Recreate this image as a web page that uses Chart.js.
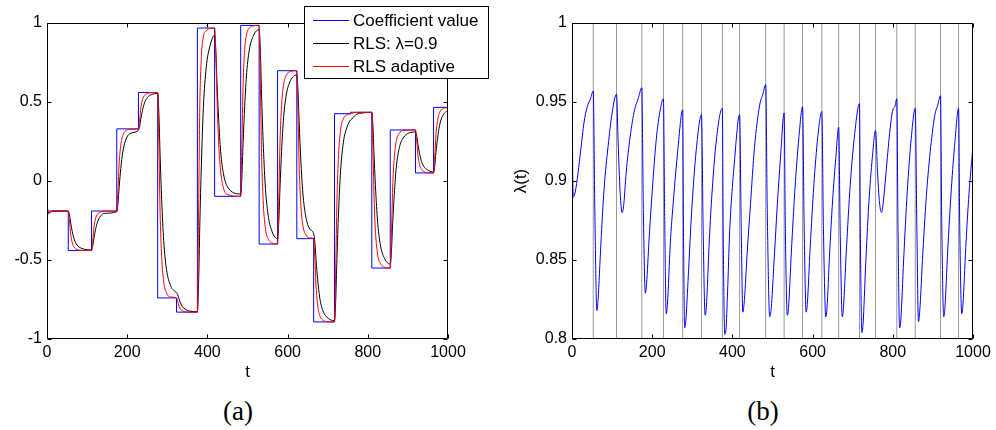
<!DOCTYPE html>
<html>
<head>
<meta charset="utf-8">
<script src="https://cdn.jsdelivr.net/npm/chart.js@4.4.0/dist/chart.umd.min.js"></script>
<style>
    body { margin: 0; background: #fff; width: 996px; height: 430px; position: relative; overflow: hidden; }
    .panel { position: absolute; top: 0; }
    #wrapA { left: 0; }
    #wrapB { left: 498px; }
    .cap {
        position: absolute; top: 398px; line-height: 27px;
        font-family: "Liberation Serif", "Times New Roman", serif; font-size: 27px;
        transform: translateX(-50%);
    }
</style>
</head>
<body>
<div class="panel" id="wrapA"><canvas id="coef" width="498" height="385"></canvas></div>
<div class="panel" id="wrapB"><canvas id="lambda" width="498" height="385"></canvas></div>
<div class="cap" style="left:238px">(a)</div>
<div class="cap" style="left:763px">(b)</div>
<script>
// change points of the true coefficient (also the grey lines in (b))
var changeTimes = [0, 53, 111, 174, 228, 276, 323, 375, 418, 483, 529, 575, 623, 665, 717, 757, 810, 856, 919, 964];
var coefValues = [-0.19, -0.44, -0.19, 0.33, 0.56, -0.74, -0.83, 0.968, -0.097, 0.985, -0.399, 0.698, -0.365, -0.892, 0.426, 0.435, -0.551, 0.323, 0.051, 0.466];
var tEnd = 1000;

// RLS estimates
var curveTimes = [
    0, 3, 6, 10, 15, 22, 32,
    53, 56, 59, 63, 68, 75, 85,
    111, 114, 117, 121, 126, 133, 143,
    174, 177, 180, 184, 189, 196, 206,
    228, 231, 234, 238, 243, 250, 260,
    276, 279, 282, 286, 291, 298, 308,
    323, 326, 329, 333, 338, 345, 355,
    375, 378, 381, 385, 390, 397, 407,
    418, 421, 424, 428, 433, 440, 450,
    483, 486, 489, 493, 498, 505, 515,
    529, 532, 535, 539, 544, 551, 561,
    575, 578, 581, 585, 590, 597, 607,
    623, 626, 629, 633, 638, 645, 655,
    665, 668, 671, 675, 680, 687, 697,
    717, 720, 723, 727, 732, 739, 749,
    757, 760, 763, 767, 772, 779, 789,
    810, 813, 816, 820, 825, 832, 842,
    856, 859, 862, 866, 871, 878, 888,
    919, 922, 925, 929, 934, 941, 951,
    964, 967, 970, 974, 979, 986, 996,
    1000
];
var rlsFixed = [
    -0.15, -0.2, -0.2, -0.195, -0.19, -0.19, -0.19,
    -0.19, -0.215, -0.265, -0.32, -0.37, -0.405, -0.425,
    -0.436, -0.411, -0.362, -0.308, -0.259, -0.224, -0.205,
    -0.194, -0.142, -0.037, 0.078, 0.183, 0.257, 0.299,
    0.322, 0.346, 0.393, 0.446, 0.493, 0.527, 0.546,
    0.554, 0.425, 0.166, -0.119, -0.378, -0.559, -0.662,
    -0.708, -0.72, -0.745, -0.771, -0.796, -0.813, -0.823,
    -0.828, -0.648, -0.289, 0.106, 0.465, 0.717, 0.86,
    0.923, 0.821, 0.617, 0.393, 0.189, 0.046, -0.036,
    -0.082, 0.025, 0.238, 0.473, 0.686, 0.836, 0.921,
    0.958, 0.822, 0.551, 0.252, -0.019, -0.209, -0.318,
    -0.365, -0.259, -0.046, 0.188, 0.4, 0.549, 0.634,
    0.671, 0.567, 0.36, 0.132, -0.075, -0.22, -0.303,
    -0.334, -0.39, -0.501, -0.624, -0.736, -0.814, -0.859,
    -0.884, -0.753, -0.491, -0.203, 0.059, 0.243, 0.347,
    0.387, 0.392, 0.401, 0.412, 0.422, 0.428, 0.432,
    0.434, 0.336, 0.139, -0.078, -0.275, -0.413, -0.492,
    -0.526, -0.441, -0.271, -0.084, 0.085, 0.204, 0.272,
    0.31, 0.284, 0.232, 0.175, 0.124, 0.087, 0.067,
    0.057, 0.098, 0.18, 0.27, 0.351, 0.409, 0.441,
    0.446
];
var rlsAdaptive = [
    -0.13, -0.21, -0.2, -0.195, -0.19, -0.19, -0.19,
    -0.19, -0.253, -0.335, -0.39, -0.42, -0.434, -0.439,
    -0.44, -0.378, -0.295, -0.24, -0.21, -0.196, -0.191,
    -0.19, -0.06, 0.112, 0.226, 0.288, 0.317, 0.327,
    0.33, 0.388, 0.463, 0.514, 0.542, 0.554, 0.559,
    0.56, 0.235, -0.194, -0.48, -0.636, -0.708, -0.734,
    -0.74, -0.763, -0.792, -0.812, -0.823, -0.828, -0.83,
    -0.83, -0.201, 0.465, 0.788, 0.914, 0.95, 0.966,
    0.968, 0.808, 0.521, 0.244, 0.063, -0.044, -0.086,
    -0.097, 0.228, 0.606, 0.834, 0.931, 0.969, 0.982,
    0.985, 0.639, 0.182, -0.122, -0.288, -0.364, -0.392,
    -0.399, -0.125, 0.237, 0.479, 0.61, 0.671, 0.693,
    0.698, 0.432, 0.081, -0.152, -0.28, -0.338, -0.36,
    -0.365, -0.497, -0.671, -0.787, -0.85, -0.879, -0.889,
    -0.892, -0.562, -0.128, 0.162, 0.321, 0.393, 0.419,
    0.426, 0.428, 0.431, 0.433, 0.434, 0.435, 0.435,
    0.435, 0.189, -0.137, -0.354, -0.472, -0.526, -0.546,
    -0.551, -0.333, -0.044, 0.148, 0.253, 0.301, 0.319,
    0.323, 0.255, 0.165, 0.105, 0.073, 0.058, 0.052,
    0.051, 0.155, 0.292, 0.383, 0.433, 0.456, 0.464,
    0.465
];

// adaptive forgetting factor, panel (b)
var lambdaTimes = [
    0, 2, 4, 8, 15, 22, 30, 38, 46, 53,
    57, 62, 65, 72, 80, 90, 100, 111,
    115, 120, 125, 129, 135, 145, 156, 165, 174,
    178, 183, 186, 192, 198, 210, 220, 228,
    231, 235, 238, 245, 253, 264, 276,
    278, 281, 284, 290, 298, 310, 323,
    327, 332, 335, 342, 348, 360, 375,
    377, 381, 384, 388, 393, 405, 418,
    422, 426, 430, 437, 445, 455, 468, 476, 483,
    487, 493, 497, 503, 512, 520, 529,
    532, 537, 540, 547, 556, 566, 575,
    579, 584, 587, 594, 603, 613, 623,
    627, 633, 636, 642, 650, 658, 665,
    669, 674, 677, 684, 694, 705, 717,
    719, 723, 726, 732, 740, 749, 757,
    762, 767, 772, 776, 783, 792, 800, 805, 810,
    813, 817, 820, 827, 836, 846, 856,
    860, 864, 867, 875, 885, 896, 905, 912, 919,
    922, 927, 930, 937, 946, 955, 964,
    967, 972, 975, 982, 990, 1000
];
var lambdaValues = [
    1.0, 0.9, 0.89, 0.893, 0.905, 0.92, 0.937, 0.947, 0.952, 0.957,
    0.88, 0.818, 0.825, 0.86, 0.895, 0.922, 0.943, 0.955,
    0.925, 0.893, 0.880, 0.885, 0.905, 0.928, 0.945, 0.952, 0.959,
    0.88, 0.829, 0.835, 0.862, 0.886, 0.926, 0.945, 0.952,
    0.88, 0.816, 0.822, 0.86, 0.888, 0.92, 0.945,
    0.87, 0.807, 0.812, 0.84, 0.879, 0.92, 0.942,
    0.87, 0.815, 0.82, 0.86, 0.888, 0.926, 0.946,
    0.87, 0.803, 0.806, 0.83, 0.867, 0.912, 0.942,
    0.87, 0.817, 0.825, 0.855, 0.885, 0.921, 0.948, 0.955, 0.961,
    0.88, 0.814, 0.82, 0.845, 0.885, 0.915, 0.943,
    0.87, 0.815, 0.82, 0.855, 0.895, 0.928, 0.947,
    0.87, 0.817, 0.823, 0.858, 0.897, 0.928, 0.944,
    0.87, 0.814, 0.82, 0.852, 0.888, 0.915, 0.934,
    0.865, 0.814, 0.82, 0.855, 0.898, 0.93, 0.949,
    0.87, 0.804, 0.81, 0.845, 0.885, 0.915, 0.932,
    0.905, 0.886, 0.880, 0.886, 0.905, 0.93, 0.945, 0.947, 0.952,
    0.87, 0.807, 0.812, 0.85, 0.893, 0.927, 0.946,
    0.87, 0.811, 0.817, 0.855, 0.895, 0.925, 0.942, 0.948, 0.954,
    0.875, 0.814, 0.82, 0.856, 0.895, 0.925, 0.946,
    0.87, 0.816, 0.822, 0.858, 0.892, 0.922
];

var xTickValues = [0, 200, 400, 600, 800, 1000];
var coefTicks = [-1, -0.5, 0, 0.5, 1];
var lambdaTicks = [0.8, 0.85, 0.9, 0.95, 1];

Chart.defaults.font.family = '"Liberation Sans", Arial, sans-serif';
Chart.defaults.font.size = 16;
Chart.defaults.color = '#000';

function pts(xs, ys) {
    return xs.map(function (x, i) { return { x: x, y: ys[i] }; });
}

// boxed axes with inward ticks, axis titles (MATLAB look)
var frame = {
    id: 'frame',
    afterDatasetsDraw: function (chart, args, opts) {
        var ctx = chart.ctx, a = chart.chartArea;
        var xs = chart.scales.x, ys = chart.scales.y;
        var L = Math.round(a.left) + 0.5, R = Math.round(a.right) - 0.5;
        var T = Math.round(a.top) + 0.5, B = Math.round(a.bottom) - 0.5;
        ctx.save();
        ctx.strokeStyle = '#000';
        ctx.lineWidth = 1;
        ctx.beginPath();
        ctx.rect(L, T, R - L, B - T);
        xs.ticks.forEach(function (t) {
            var px = Math.round(xs.getPixelForValue(t.value)) + 0.5;
            ctx.moveTo(px, B); ctx.lineTo(px, B - 4);
            ctx.moveTo(px, T); ctx.lineTo(px, T + 4);
        });
        ys.ticks.forEach(function (t) {
            var py = Math.round(ys.getPixelForValue(t.value)) + 0.5;
            ctx.moveTo(L, py); ctx.lineTo(L + 4, py);
            ctx.moveTo(R, py); ctx.lineTo(R - 4, py);
        });
        ctx.stroke();

        ctx.fillStyle = '#000';
        ctx.font = '17px "Liberation Sans", Arial, sans-serif';
        ctx.textAlign = 'center';
        ctx.textBaseline = 'middle';
        ctx.fillText(opts.xTitle, (a.left + a.right) / 2, 372);
        if (opts.yTitle) {
            ctx.translate(opts.yTitleX, (a.top + a.bottom) / 2);
            ctx.rotate(-Math.PI / 2);
            ctx.fillText(opts.yTitle, 0, 0);
        }
        ctx.restore();
    }
};

// legend box in the top right corner of (a), sticking out of the axes
var boxLegend = {
    id: 'boxLegend',
    afterDraw: function (chart, args, opts) {
        if (!opts.show) return;
        var ctx = chart.ctx;
        ctx.save();
        ctx.fillStyle = '#fff';
        ctx.fillRect(304.5, 6.5, 184, 72);
        ctx.strokeStyle = '#000';
        ctx.lineWidth = 1;
        ctx.strokeRect(304.5, 6.5, 184, 72);
        ctx.font = '17px "Liberation Sans", Arial, sans-serif';
        ctx.textAlign = 'left';
        ctx.textBaseline = 'middle';
        opts.order.forEach(function (di, i) {
            var ds = chart.data.datasets[di];
            var y = 20.5 + i * 23;
            ctx.strokeStyle = ds.borderColor;
            ctx.beginPath();
            ctx.moveTo(313, y); ctx.lineTo(349, y);
            ctx.stroke();
            ctx.fillStyle = '#000';
            ctx.fillText(ds.label, 353, y + 1);
        });
        ctx.restore();
    }
};

function axes(yMin, yMax, yTicks, yWidth) {
    return {
        x: {
            type: 'linear', min: 0, max: tEnd,
            grid: { display: false, drawTicks: false },
            border: { display: false },
            afterBuildTicks: function (s) { s.ticks = xTickValues.map(function (v) { return { value: v }; }); },
            afterFit: function (s) { s.height = 46; },
            ticks: { padding: 4, maxRotation: 0, callback: function (v) { return String(v); } }
        },
        y: {
            type: 'linear', min: yMin, max: yMax,
            grid: { display: false, drawTicks: false },
            border: { display: false },
            afterBuildTicks: function (s) { s.ticks = yTicks.map(function (v) { return { value: v }; }); },
            afterFit: function (s) { s.width = yWidth; },
            ticks: { padding: 5, callback: function (v) { return String(v); } }
        }
    };
}

var ctx = document.getElementById('coef');
var coefChart = new Chart(ctx, {
    type: 'line',
    data: {
        datasets: [{
            label: 'RLS adaptive',
            data: pts(curveTimes, rlsAdaptive),
            borderColor: '#ff0000',
            borderWidth: 1,
            cubicInterpolationMode: 'monotone',
            order: 1
        }, {
            label: 'RLS: λ=0.9',
            data: pts(curveTimes, rlsFixed),
            borderColor: '#000000',
            borderWidth: 1,
            cubicInterpolationMode: 'monotone',
            order: 2
        }, {
            label: 'Coefficient value',
            data: pts(changeTimes.concat([tEnd]), coefValues.concat([coefValues[coefValues.length - 1]])),
            borderColor: '#0000ff',
            borderWidth: 1,
            stepped: true,
            order: 3
        }]
    },
    options: {
        responsive: false,
        animation: false,
        events: [],
        elements: { point: { radius: 0 } },
        layout: { padding: { top: 23, right: 50, left: 0, bottom: 0 } },
        scales: axes(-1, 1, coefTicks, 47),
        plugins: {
            legend: { display: false },
            tooltip: { enabled: false },
            frame: { xTitle: 't' },
            boxLegend: { show: true, order: [2, 1, 0] }
        }
    },
    plugins: [frame, boxLegend]
});

var linePts = [];
changeTimes.slice(1).forEach(function (c) {
    linePts.push({ x: c, y: 0.8 }, { x: c, y: 1 }, { x: c, y: null });
});

var ctx = document.getElementById('lambda');
var lambdaChart = new Chart(ctx, {
    type: 'line',
    data: {
        datasets: [{
            label: 'λ(t)',
            data: pts(lambdaTimes, lambdaValues),
            borderColor: '#0000ff',
            borderWidth: 1,
            cubicInterpolationMode: 'monotone'
        }, {
            label: 'changes',
            data: linePts,
            borderColor: '#999999',
            borderWidth: 1,
            spanGaps: false
        }]
    },
    options: {
        responsive: false,
        animation: false,
        events: [],
        elements: { point: { radius: 0 } },
        layout: { padding: { top: 23, right: 23, left: 0, bottom: 0 } },
        scales: axes(0.8, 1, lambdaTicks, 74),
        plugins: {
            legend: { display: false },
            tooltip: { enabled: false },
            frame: { xTitle: 't', yTitle: 'λ(t)', yTitleX: 23 },
            boxLegend: { show: false }
        }
    },
    plugins: [frame, boxLegend]
});
</script>
</body>
</html>
